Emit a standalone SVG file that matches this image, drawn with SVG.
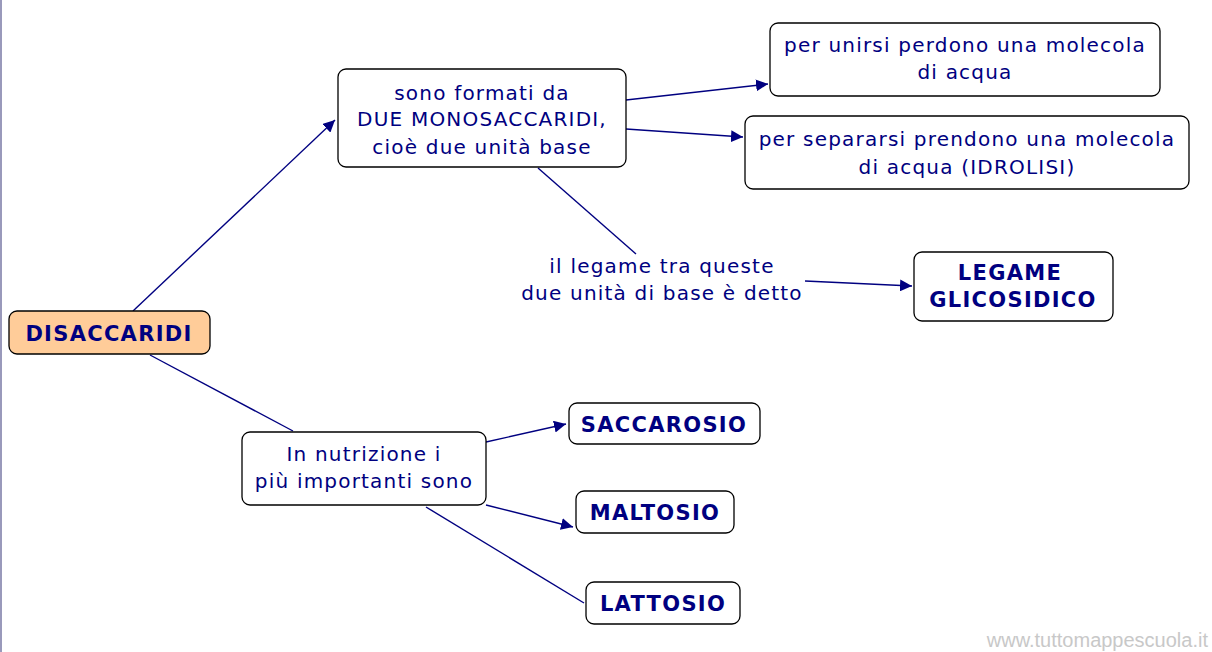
<svg xmlns="http://www.w3.org/2000/svg" width="1212" height="652" viewBox="0 0 1212 652">
<defs>
<style>
.n{fill:#fff;stroke:#000;stroke-width:1.3}
.t{font-family:"DejaVu Sans",Verdana,sans-serif;font-size:20px;letter-spacing:1.2px;fill:#000080;text-anchor:middle}
.b{font-weight:bold;font-size:21px;letter-spacing:1.3px}
.c line{stroke:#000080;stroke-width:1.4}
</style>
<marker id="a" viewBox="0 0 10 10" refX="10" refY="5" markerWidth="12" markerHeight="12" markerUnits="userSpaceOnUse" orient="auto"><path d="M0,0L10,5L0,10z" fill="#000080"/></marker>
</defs>
<rect width="1212" height="652" fill="#fff"/>
<line x1="1" y1="0" x2="1" y2="652" stroke="#9999bb" stroke-width="2"/>
<g class="c">
<line x1="133" y1="311" x2="335" y2="120" marker-end="url(#a)"/>
<line x1="626" y1="100" x2="768" y2="84" marker-end="url(#a)"/>
<line x1="626" y1="129" x2="743" y2="137" marker-end="url(#a)"/>
<line x1="538" y1="168" x2="636" y2="254"/>
<line x1="805" y1="281" x2="912" y2="286" marker-end="url(#a)"/>
<line x1="150" y1="355" x2="293" y2="431"/>
<line x1="486" y1="442" x2="566" y2="424" marker-end="url(#a)"/>
<line x1="486" y1="505" x2="573" y2="527" marker-end="url(#a)"/>
<line x1="426" y1="507" x2="584" y2="603"/>
</g>
<g id="disaccaridi"><rect class="n" x="9" y="311" width="201" height="43" rx="8" style="fill:#FFCC99"/><text class="t b" x="109" y="341">DISACCARIDI</text></g>
<g id="formati"><rect class="n" x="338" y="69" width="288" height="98" rx="8"/><text class="t" x="482" y="100">sono formati da</text><text class="t" x="482" y="126">DUE MONOSACCARIDI,</text><text class="t" x="482" y="154">cioè due unità base</text></g>
<g id="unirsi"><rect class="n" x="770" y="23" width="390" height="73" rx="8"/><text class="t" x="965" y="52">per unirsi perdono una molecola</text><text class="t" x="965" y="79">di acqua</text></g>
<g id="separarsi"><rect class="n" x="745" y="116" width="444" height="73" rx="8"/><text class="t" x="967" y="146">per separarsi prendono una molecola</text><text class="t" x="967" y="174">di acqua (IDROLISI)</text></g>
<g id="legame-label"><text class="t" x="662" y="273">il legame tra queste</text><text class="t" x="662" y="300">due unità di base è detto</text></g>
<g id="glicosidico"><rect class="n" x="914" y="252" width="199" height="69" rx="8"/><text class="t b" x="1010" y="280">LEGAME</text><text class="t b" x="1013" y="307">GLICOSIDICO</text></g>
<g id="nutrizione"><rect class="n" x="242" y="432" width="244" height="73" rx="8"/><text class="t" x="364" y="461">In nutrizione i</text><text class="t" x="364" y="488">più importanti sono</text></g>
<g id="saccarosio"><rect class="n" x="569" y="403" width="191" height="41" rx="8"/><text class="t b" x="664" y="432">SACCAROSIO</text></g>
<g id="maltosio"><rect class="n" x="576" y="491" width="158" height="42" rx="8"/><text class="t b" x="655" y="520">MALTOSIO</text></g>
<g id="lattosio"><rect class="n" x="586" y="582" width="154" height="42" rx="8"/><text class="t b" x="663" y="611">LATTOSIO</text></g>
<text x="1208" y="647" style="font-family:'Liberation Sans',Arial,sans-serif;font-size:20px;fill:#c8c8c8;text-anchor:end">www.tuttomappescuola.it</text>
</svg>
